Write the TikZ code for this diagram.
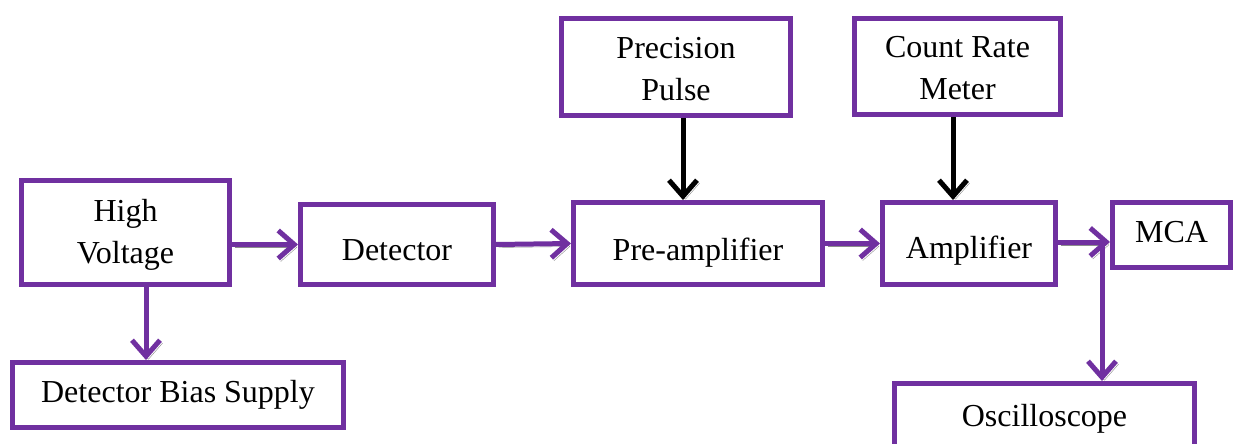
\documentclass[tikz,border=0pt]{standalone}
\usepackage{fontspec}
\setmainfont{Liberation Serif}
\usetikzlibrary{arrows.meta}
\definecolor{purp}{HTML}{7030A0}
\tikzset{
  blk/.style={draw=purp, line width=5pt, fill=white, inner sep=0pt, align=center,
    font=\fontsize{32}{42}\selectfont, text depth=0pt},
  conn/.style={line width=5pt, draw=purp, -{Straight Barb[length=16pt,width=28pt,line width=5pt]},
    preaction={draw=black!45, transform canvas={shift={(2.5pt,-3pt)}}}},
  bconn/.style={conn, draw=black}
}
\begin{document}
\begin{tikzpicture}[x=1pt,y=-1pt]
\useasboundingbox (0,0) rectangle (1239,444);
\node[blk, text height=61pt, minimum width=208pt, minimum height=104pt] (hv) at (125.5,232.5) {High\\Voltage};
\node[blk, text height=15pt, minimum width=331pt, minimum height=65pt] (dbs) at (178,395) {Detector Bias Supply};
\node[blk, text height=31pt, minimum width=193pt, minimum height=80pt] (det) at (397,244.5) {Detector};
\node[blk, text height=33pt, minimum width=249pt, minimum height=82pt] (pre) at (698,243.5) {Pre-amplifier};
\node[blk, text height=66pt, minimum width=229pt, minimum height=97pt] (pp) at (676,67) {Precision\\Pulse};
\node[blk, text height=66pt, minimum width=206pt, minimum height=96pt] (crm) at (957.5,66.5) {Count Rate\\Meter};
\node[blk, text height=29pt, minimum width=173pt, minimum height=82pt] (amp) at (969,243.5) {Amplifier};
\node[blk, text height=15pt, minimum width=118pt, minimum height=65pt] (mca) at (1171.5,235) {MCA};
\node[blk, text height=21pt, minimum width=300pt, minimum height=65pt] (osc) at (1044.5,416) {Oscilloscope};
\coordinate (jn) at (1102,242);
\draw[conn] (hv.east |- det.west) -- (det.west);
\draw[conn] (det.east) -- (pre.west);
\draw[conn] (pre.east) -- (amp.west);
\draw[conn] (amp.east |- jn) -- (jn -| mca.west);
\draw[conn] (jn) -- (jn |- osc.north);
\draw[conn] ([xshift=20.5pt]hv.south) -- ([xshift=20.5pt]hv.south |- dbs.north);
\draw[bconn] ([xshift=7pt]pp.south) -- ([xshift=7pt]pp.south |- pre.north);
\draw[bconn] ([xshift=-4.5pt]crm.south) -- ([xshift=-4.5pt]crm.south |- amp.north);
\end{tikzpicture}
\end{document}
